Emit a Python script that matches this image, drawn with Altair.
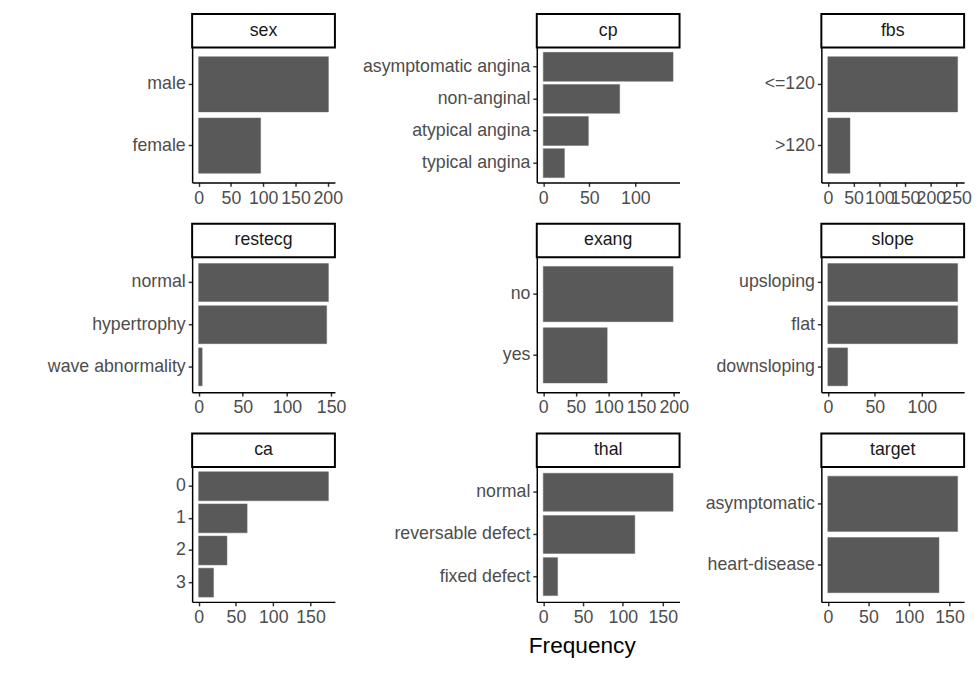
import altair as alt
import pandas as pd

# ---- data ----
panels = ["sex", "cp", "fbs", "restecg", "exang", "slope", "ca", "thal", "target"]

sex_cat = ["male", "female"]
sex_n = [201, 96]
cp_cat = ["asymptomatic angina", "non-anginal", "atypical angina", "typical angina"]
cp_n = [141, 83, 49, 23]
fbs_cat = ["<=120", ">120"]
fbs_n = [252, 43]
restecg_cat = ["normal", "hypertrophy", "wave abnormality"]
restecg_n = [147, 145, 4]
exang_cat = ["no", "yes"]
exang_n = [199, 98]
slope_cat = ["upsloping", "flat", "downsloping"]
slope_n = [138, 138, 21]
ca_cat = ["0", "1", "2", "3"]
ca_n = [174, 65, 38, 20]
thal_cat = ["normal", "reversable defect", "fixed defect"]
thal_n = [163, 115, 18]
target_cat = ["asymptomatic", "heart-disease"]
target_n = [160, 137]

sex_ticks = [0, 50, 100, 150, 200]
cp_ticks = [0, 50, 100]
fbs_ticks = [0, 50, 100, 150, 200, 250]
restecg_ticks = [0, 50, 100, 150]
exang_ticks = [0, 50, 100, 150, 200]
slope_ticks = [0, 50, 100]
ca_ticks = [0, 50, 100, 150]
thal_ticks = [0, 50, 100, 150]
target_ticks = [0, 50, 100, 150]

spec = {
    "sex": (sex_cat, sex_n, sex_ticks),
    "cp": (cp_cat, cp_n, cp_ticks),
    "fbs": (fbs_cat, fbs_n, fbs_ticks),
    "restecg": (restecg_cat, restecg_n, restecg_ticks),
    "exang": (exang_cat, exang_n, exang_ticks),
    "slope": (slope_cat, slope_n, slope_ticks),
    "ca": (ca_cat, ca_n, ca_ticks),
    "thal": (thal_cat, thal_n, thal_ticks),
    "target": (target_cat, target_n, target_ticks),
}

# ---- styling ----
FONT = "Liberation Sans"
FS = 18
PW, PH = 145, 137
STRIP_H = 34
col_extent = [157, 193, 134]

charts = []
for i, name in enumerate(panels):
    cats, vals, ticks = spec[name]
    df = pd.DataFrame({"category": cats, "count": vals})
    m = max(vals)
    dom = [-0.05 * m, 1.05 * m]
    ext = col_extent[i % 3]
    bars = alt.Chart(df).mark_bar(color="#595959", stroke="#6a6a6a", strokeWidth=0.5).encode(
        x=alt.X("count:Q",
                scale=alt.Scale(domain=dom, nice=False, zero=False),
                axis=alt.Axis(values=ticks, title=None, labelOverlap=False, labelFlush=False,
                              minExtent=26, maxExtent=26)),
        y=alt.Y("category:N", sort=cats,
                scale=alt.Scale(paddingInner=0.1, paddingOuter=0.15),
                axis=alt.Axis(title=None, minExtent=ext, maxExtent=ext)),
    )
    strip_df = pd.DataFrame({"label": [name]})
    strip = alt.Chart(strip_df).mark_rect(fill="white", stroke="black", strokeWidth=2).encode(
        x=alt.value(0), x2=alt.value(PW), y=alt.value(-STRIP_H), y2=alt.value(0)
    )
    strip_text = alt.Chart(strip_df).mark_text(font=FONT, fontSize=FS, color="#1A1A1A",
                                                baseline="middle", align="center").encode(
        x=alt.value(PW / 2), y=alt.value(-STRIP_H / 2), text="label:N"
    )
    charts.append(alt.layer(bars, strip, strip_text).properties(width=PW, height=PH))

chart = alt.concat(*charts, columns=3, spacing={"row": 15, "column": 0}).properties(
    align="each",
    padding={"left": 30, "top": 0, "right": 0, "bottom": 5},
    title=alt.TitleParams("Frequency", orient="bottom", anchor="middle", dx=79,
                          font=FONT, fontSize=23, fontWeight="normal", color="black", offset=8),
).configure_view(stroke=None).configure_axis(
    grid=False,
    domainColor="black",
    domainWidth=1.5,
    tickColor="#333333",
    tickWidth=1.5,
    tickSize=4,
    labelFont=FONT,
    labelFontSize=FS,
    labelColor="#4D4D4D",
    labelPadding=3,
)

chart.save("out.html", embed_options={"renderer": "svg", "actions": False})
